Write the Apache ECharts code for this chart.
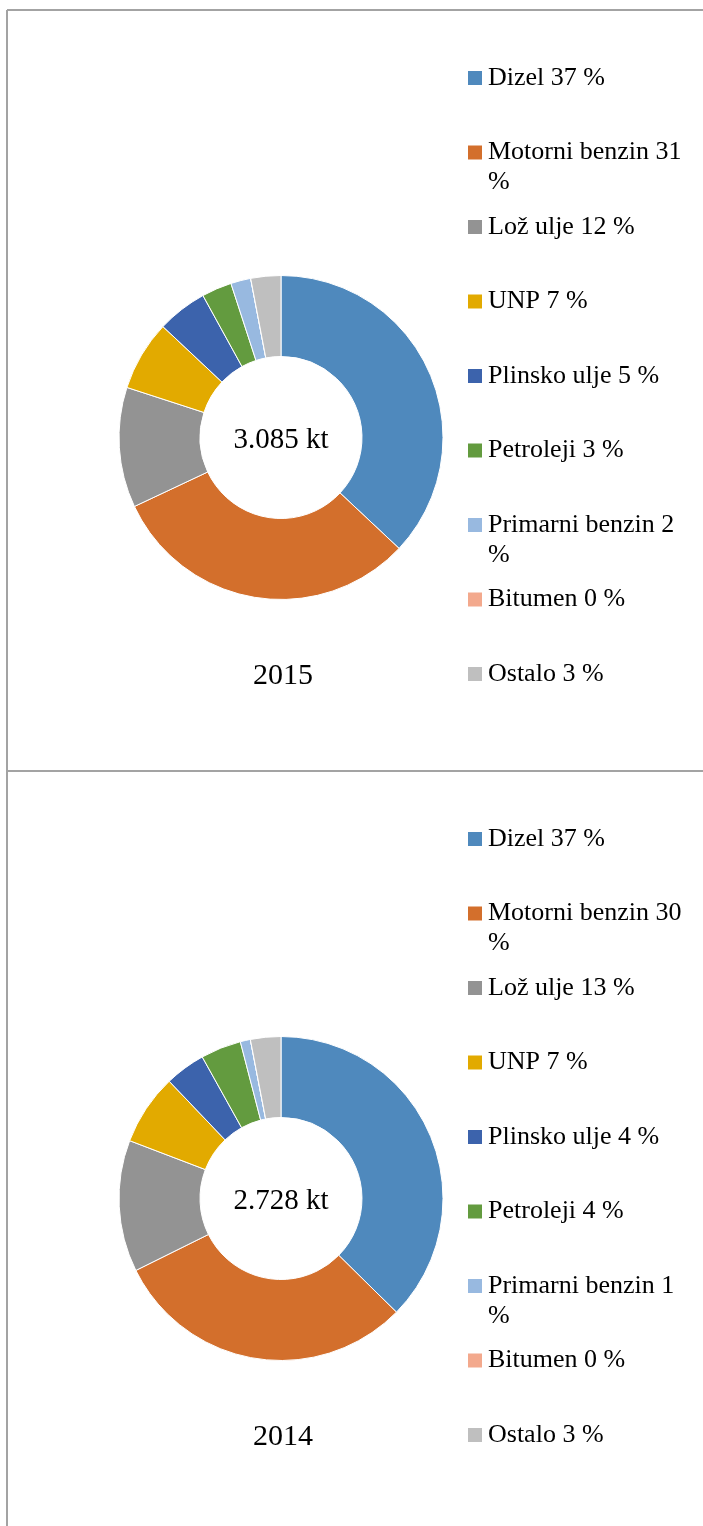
<!DOCTYPE html>
<html>
<head>
<meta charset="utf-8">
<script src="https://cdn.jsdelivr.net/npm/echarts@6/dist/echarts.min.js"></script>
<style>
  html, body { margin: 0; padding: 0; background: #fff; overflow: hidden; }
  #chart { width: 703px; height: 1526px; }
</style>
</head>
<body>
<div id="chart"></div>
<script>
// kategorije i udjeli (%)
const categories = ['Dizel', 'Motorni benzin', 'Lož ulje', 'UNP', 'Plinsko ulje',
  'Petroleji', 'Primarni benzin', 'Bitumen', 'Ostalo'];
const values2015 = [37, 31, 12, 7, 5, 3, 2, 0, 3];
const values2014 = [37, 30, 13, 7, 4, 4, 1, 0, 3];
const totals = ['3.085 kt', '2.728 kt'];
const years = ['2015', '2014'];

const colors = ['#4f89bd', '#d36f2c', '#939393', '#e2aa00', '#3c63ac',
  '#639b3f', '#98b9e0', '#f3a98d', '#bfbfbf'];

const font = '"Liberation Serif", "Times New Roman", serif';
const legendFontSize = 26;
const lineH = 30;
const wrapWidth = 205;
const panelShift = 761;
const panels = [values2015, values2014];

// koliko redaka zauzima tekst legende (prelamanje po riječima)
const ctx = document.createElement('canvas').getContext('2d');
ctx.font = legendFontSize + 'px ' + font;
function lineCount(text) {
  const words = text.split(' ');
  let n = 1, cur = '';
  words.forEach(function (w) {
    const t = cur ? cur + ' ' + w : w;
    if (cur && ctx.measureText(t).width > wrapWidth) { n++; cur = w; }
    else cur = t;
  });
  return n;
}

const chart = echarts.init(document.getElementById('chart'));

const series = panels.map(function (vals, p) {
  return {
    type: 'pie',
    center: [281, 437.5 + p * panelShift],
    radius: [81, 162],
    startAngle: 90,
    clockwise: true,
    label: { show: false },
    labelLine: { show: false },
    emphasis: { disabled: true },
    itemStyle: { borderColor: '#fff', borderWidth: 1 },
    data: categories.map(function (c, i) {
      return { name: c, value: vals[i], itemStyle: { color: colors[i] } };
    })
  };
});

// jedna legenda po stavci, prvi redak teksta poravnat s kvadratićem
const legends = [];
panels.forEach(function (vals, p) {
  categories.forEach(function (c, i) {
    const label = c + ' ' + vals[i] + ' %';
    const n = lineCount(label);
    const blockH = (2 * n - 1) * lineH;
    const cy = 78 + i * 74.5 + p * panelShift;
    legends.push({
      orient: 'vertical',
      left: 466,
      top: cy - blockH / 2,
      padding: 0,
      itemWidth: 16,
      itemHeight: 16,
      icon: 'rect',
      selectedMode: false,
      data: [c],
      formatter: function () { return '\n'.repeat(n - 1) + label; },
      textStyle: {
        fontFamily: font,
        fontSize: legendFontSize,
        color: '#000',
        lineHeight: lineH,
        width: wrapWidth,
        overflow: 'break'
      }
    });
  });
});

const texts = [];
panels.forEach(function (vals, p) {
  texts.push({
    type: 'text',
    x: 281, y: 440 + p * panelShift,
    style: { text: totals[p], font: '29px ' + font, fill: '#000',
      align: 'center', verticalAlign: 'middle' }
  });
  texts.push({
    type: 'text',
    x: 283, y: 676 + p * panelShift,
    style: { text: years[p], font: '30px ' + font, fill: '#000',
      align: 'center', verticalAlign: 'middle' }
  });
});

// okvir
const frame = [
  [7, 10, 703, 10],
  [7, 10, 7, 1526],
  [7, 771, 703, 771]
].map(function (l) {
  return {
    type: 'line',
    shape: { x1: l[0], y1: l[1], x2: l[2], y2: l[3] },
    style: { stroke: '#a3a3a3', lineWidth: 2 }
  };
});

chart.setOption({
  animation: false,
  color: colors,
  legend: legends,
  series: series,
  graphic: frame.concat(texts)
});
</script>
</body>
</html>
